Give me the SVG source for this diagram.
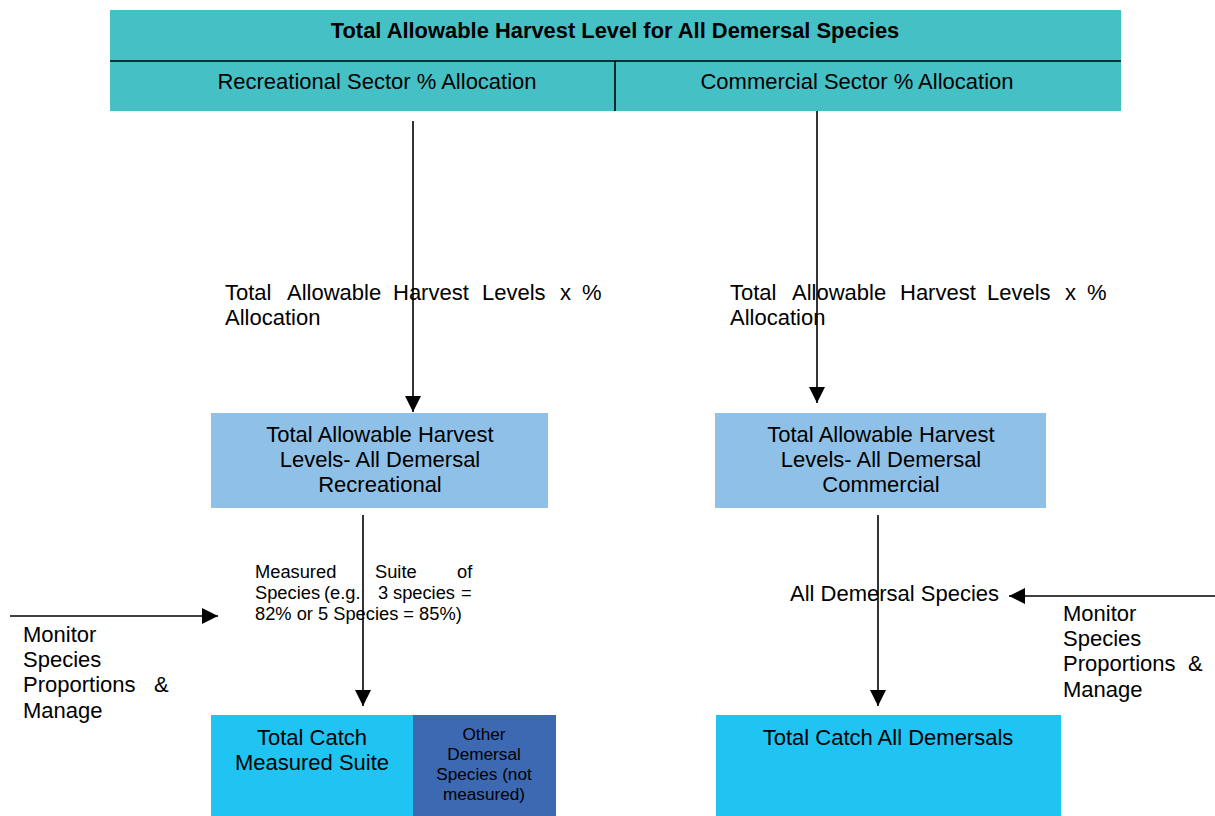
<svg xmlns="http://www.w3.org/2000/svg" width="1215" height="816" viewBox="0 0 1215 816">
<style>
text{font-family:"Liberation Sans",Arial,sans-serif;fill:#000;}
.t{font-size:22px;}
.tb{font-size:21.9px;font-weight:bold;}
.s{font-size:18.3px;}
.o{font-size:17.2px;}
.c{text-anchor:middle;}
.ln{stroke:#000;stroke-width:1.6;fill:none;}
</style>
<defs>
<marker id="ah" markerUnits="userSpaceOnUse" markerWidth="16" markerHeight="16" refX="16" refY="8" orient="auto">
<path d="M0,0 L16,8 L0,16 z" fill="#000"/>
</marker>
</defs>
<rect width="1215" height="816" fill="#fff"/>

<g id="top">
<rect x="110" y="10" width="1011" height="101" fill="#45C1C5"/>
<line x1="110" y1="61" x2="1121" y2="61" class="ln"/>
<line x1="615" y1="61" x2="615" y2="111" class="ln"/>
<text class="tb c" x="615" y="38">Total Allowable Harvest Level for All Demersal Species</text>
<text class="t c" x="377" y="89">Recreational Sector % Allocation</text>
<text class="t c" x="857" y="89">Commercial Sector % Allocation</text>
</g>

<g id="label-rec" class="t">
<text x="225" y="300">Total</text><text x="287" y="300">Allowable</text><text x="393" y="300">Harvest</text><text x="482" y="300">Levels</text><text x="560" y="300">x</text><text x="582" y="300">%</text>
<text x="225" y="325">Allocation</text>
</g>
<g id="label-com" class="t">
<text x="730" y="300">Total</text><text x="792" y="300">Allowable</text><text x="900" y="300">Harvest</text><text x="987" y="300">Levels</text><text x="1065" y="300">x</text><text x="1087" y="300">%</text>
<text x="730" y="325">Allocation</text>
</g>

<g id="box-rec">
<rect x="211" y="413" width="337" height="95" fill="#8FC1E8"/>
<text class="t c" x="380" y="442">Total Allowable Harvest</text>
<text class="t c" x="380" y="467">Levels- All Demersal</text>
<text class="t c" x="380" y="492">Recreational</text>
</g>
<g id="box-com">
<rect x="715" y="413" width="331" height="95" fill="#8FC1E8"/>
<text class="t c" x="881" y="442">Total Allowable Harvest</text>
<text class="t c" x="881" y="467">Levels- All Demersal</text>
<text class="t c" x="881" y="492">Commercial</text>
</g>

<g id="label-suite" class="s">
<text x="255" y="578">Measured</text><text x="375" y="578">Suite</text><text x="457" y="578">of</text>
<text x="255" y="599">Species</text><text x="324" y="599">(e.g.</text><text x="378" y="599">3</text><text x="393" y="599">species</text><text x="461" y="599">=</text>
<text x="255" y="620">82% or 5 Species = 85%)</text>
</g>

<g id="monitor-left" class="t">
<text x="23" y="642">Monitor</text>
<text x="23" y="667">Species</text>
<text x="23" y="692">Proportions</text><text x="154" y="692">&amp;</text>
<text x="23" y="718">Manage</text>
</g>

<g id="label-all" class="t">
<text x="790" y="601">All Demersal Species</text>
</g>

<g id="monitor-right" class="t">
<text x="1063" y="621">Monitor</text>
<text x="1063" y="646">Species</text>
<text x="1063" y="671">Proportions</text><text x="1188" y="671">&amp;</text>
<text x="1063" y="697">Manage</text>
</g>

<g id="catch-suite">
<rect x="211" y="715" width="202" height="101" fill="#1FC4F2"/>
<text class="t c" x="312" y="745">Total Catch</text>
<text class="t c" x="312" y="770">Measured Suite</text>
</g>
<g id="other">
<rect x="413" y="715" width="143" height="101" fill="#3D68B2"/>
<text class="o c" x="484" y="740">Other</text>
<text class="o c" x="484" y="760">Demersal</text>
<text class="o c" x="484" y="780">Species (not</text>
<text class="o c" x="484" y="800">measured)</text>
</g>
<g id="catch-all">
<rect x="716" y="715" width="345" height="101" fill="#1FC4F2"/>
<text class="t c" x="888" y="745">Total Catch All Demersals</text>
</g>

<g id="connectors">
<line x1="413" y1="121" x2="413" y2="412" class="ln" marker-end="url(#ah)"/>
<line x1="817" y1="111" x2="817" y2="403" class="ln" marker-end="url(#ah)"/>
<line x1="363" y1="515" x2="363" y2="706" class="ln" marker-end="url(#ah)"/>
<line x1="878" y1="515" x2="878" y2="706" class="ln" marker-end="url(#ah)"/>
<line x1="10" y1="616" x2="218" y2="616" class="ln" marker-end="url(#ah)"/>
<line x1="1215" y1="596" x2="1009" y2="596" class="ln" marker-end="url(#ah)"/>
</g>
</svg>
